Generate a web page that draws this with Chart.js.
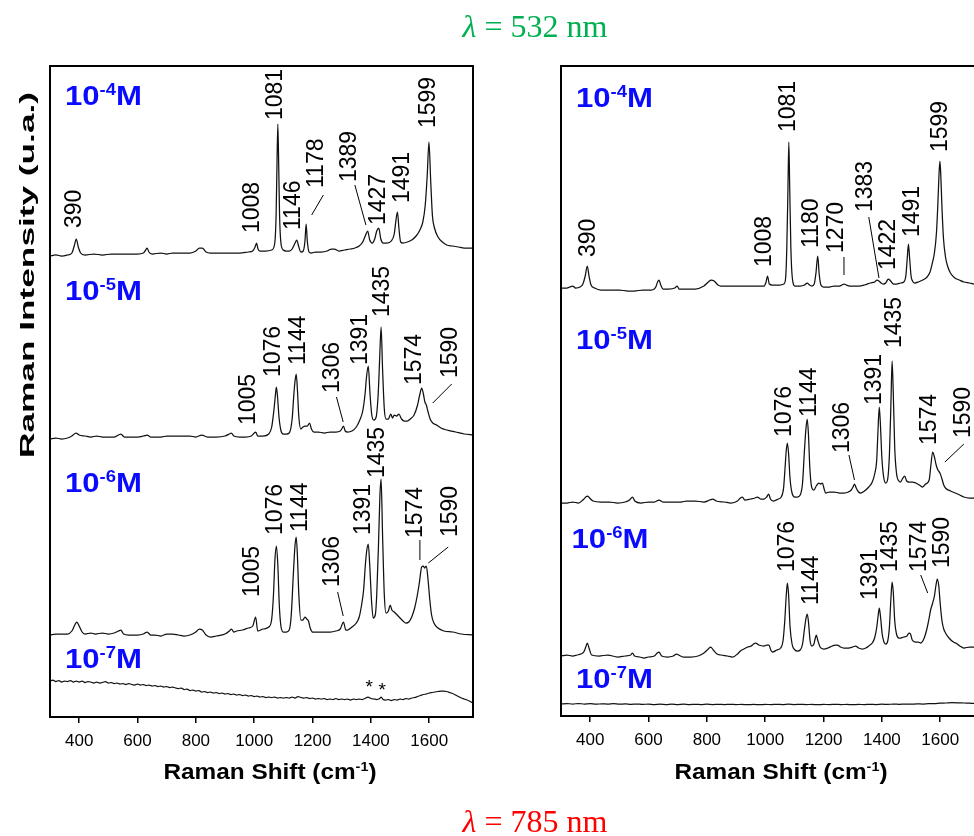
<!DOCTYPE html>
<html>
<head>
<meta charset="utf-8">
<script src="https://cdn.jsdelivr.net/npm/chart.js@4.4.1/dist/chart.umd.min.js"></script>
<style>
  html, body { margin: 0; padding: 0; background: #fff; overflow: hidden; width: 974px; height: 836px; }
  #wrap { position: relative; width: 974px; height: 836px; overflow: hidden; }
  #cA { position: absolute; left: 0; top: 0; }
  #cB { position: absolute; left: 500px; top: 0; }
</style>
</head>
<body>
<div id="wrap">
  <canvas id="cA" width="974" height="836"></canvas>
  <canvas id="cB" width="500" height="836"></canvas>
</div>
<script>
// ---------- axis ----------
const shiftMin = 300;
const shiftMax = 1750;
const shiftTicks = [400, 600, 800, 1000, 1200, 1400, 1600];
const concExponents = ['-4', '-5', '-6', '-7'];

// ---------- left panel spectra: [Raman shift (cm-1), intensity (u.a.) above the trace baseline] ----------
const specA4 = [[300,0],[320,1],[340,0],[360,1],[375,3],[383,10],[390,17],[397,9],[405,3],[420,1],[450,2],[480,1],[510,2],[540,2],[570,2],[600,2],[620,3],[628,6],[633,8],[639,4],[650,2],[680,3],[700,2],[720,3],[750,3],[780,3],[800,5],[812,8],[822,8],[835,4],[850,3],[880,3],[920,3],[950,3],[980,4],[995,5],[1003,9],[1008,13],[1013,7],[1020,5],[1040,5],[1060,6],[1070,12],[1075,40],[1078,90],[1081,132],[1084,90],[1087,40],[1092,12],[1100,6],[1110,5],[1120,5],[1130,7],[1140,13],[1146,16],[1152,10],[1160,4],[1168,5],[1174,15],[1178,32],[1182,15],[1188,4],[1195,3],[1210,4],[1230,4],[1250,5],[1265,7],[1275,7],[1290,5],[1310,6],[1330,7],[1345,8],[1360,10],[1372,14],[1382,21],[1389,25],[1396,16],[1405,13],[1413,17],[1420,25],[1427,28],[1434,17],[1442,13],[1455,13],[1470,15],[1480,22],[1486,36],[1491,44],[1496,28],[1502,14],[1510,13],[1525,14],[1540,16],[1555,20],[1568,26],[1578,34],[1586,50],[1593,80],[1599,114],[1605,75],[1611,40],[1618,28],[1630,19],[1645,14],[1660,11],[1680,10],[1700,9],[1720,8],[1750,8]];
const specA5 = [[300,0],[320,1],[340,0],[360,1],[375,3],[389,6],[400,4],[420,3],[440,2],[460,3],[480,2],[500,2],[520,2],[543,5],[555,2],[580,2],[600,2],[620,3],[633,4],[645,2],[680,2],[700,3],[720,3],[750,3],[780,3],[800,2],[820,4],[840,2],[870,2],[900,3],[915,5],[922,6],[930,3],[950,2],[970,2],[990,3],[1005,7],[1012,3],[1030,3],[1050,5],[1060,12],[1068,30],[1072,42],[1076,52],[1080,42],[1085,22],[1092,8],[1100,5],[1110,5],[1120,6],[1130,20],[1136,45],[1140,58],[1144,65],[1148,50],[1153,22],[1160,10],[1167,12],[1175,13],[1182,13],[1190,16],[1196,10],[1205,7],[1220,7],[1240,6],[1260,7],[1280,7],[1295,8],[1300,10],[1306,13],[1312,8],[1320,7],[1335,8],[1350,12],[1362,19],[1372,28],[1380,45],[1385,62],[1391,73],[1397,45],[1403,24],[1410,19],[1418,22],[1425,45],[1430,80],[1435,112],[1440,70],[1446,30],[1452,20],[1460,20],[1468,25],[1474,21],[1480,24],[1488,23],[1496,25],[1505,20],[1515,18],[1525,18],[1535,20],[1548,24],[1560,34],[1568,45],[1574,51],[1580,45],[1585,37],[1590,34],[1596,27],[1603,20],[1612,16],[1625,14],[1640,11],[1660,9],[1690,7],[1720,5],[1750,4]];
const specA6 = [[300,0],[320,1],[340,1],[360,1],[375,4],[385,10],[392,13],[400,9],[410,3],[420,1],[440,2],[455,1],[480,2],[500,1],[520,2],[535,4],[543,5],[552,1],[570,0],[600,0],[620,1],[633,3],[645,0],[660,0],[680,-1],[700,1],[720,1],[740,0],[760,-1],[780,0],[800,3],[812,6],[822,5],[835,0],[850,-2],[870,-1],[900,1],[915,4],[922,6],[930,3],[940,4],[960,5],[980,7],[995,9],[1005,18],[1012,4],[1030,6],[1050,8],[1060,16],[1066,40],[1071,75],[1076,89],[1081,70],[1086,30],[1092,8],[1100,3],[1110,3],[1120,5],[1127,20],[1134,60],[1140,90],[1144,98],[1148,80],[1153,40],[1160,15],[1167,15],[1174,18],[1180,16],[1186,14],[1192,7],[1200,3],[1220,3],[1240,3],[1260,3],[1280,4],[1295,6],[1306,13],[1314,5],[1320,5],[1335,8],[1350,12],[1360,18],[1368,30],[1375,45],[1381,70],[1386,85],[1391,91],[1396,70],[1402,35],[1408,17],[1415,20],[1420,40],[1426,90],[1431,140],[1435,156],[1440,100],[1446,40],[1452,22],[1460,24],[1466,30],[1472,25],[1480,23],[1490,20],[1500,17],[1510,14],[1520,12],[1530,13],[1540,18],[1550,27],[1558,38],[1566,52],[1574,68],[1580,69],[1584,67],[1590,69],[1596,55],[1602,35],[1608,20],[1616,12],[1630,7],[1650,4],[1680,3],[1710,1],[1750,0]];
const specA7 = [[300,22],[310,23],[320,21.5],[330,22.5],[340,21],[350,22],[360,21.5],[370,22.5],[380,21],[390,22],[400,21],[410,22],[420,20.5],[430,21.5],[440,21],[450,20],[460,21],[470,20],[480,20.5],[490,21.5],[500,20],[510,20.5],[520,19.5],[530,20],[540,19],[550,19.5],[560,18.5],[570,19.5],[580,18.5],[590,18],[600,19],[610,18],[620,18.5],[630,17.5],[640,18],[650,17],[660,17.5],[670,16.5],[680,17],[690,16],[700,16.5],[710,15.5],[720,16],[730,15],[740,14.5],[750,15],[760,13.5],[770,14],[780,12.5],[790,13],[800,12],[810,12.5],[820,11],[830,11.5],[840,10.5],[850,11],[860,10],[870,10.5],[880,9.5],[890,10],[900,9],[910,9.5],[920,8.5],[930,9],[940,8],[950,8.5],[960,7.5],[970,8],[980,7],[990,7.5],[1000,6.5],[1010,7],[1020,6],[1030,6.5],[1040,5.5],[1050,6],[1060,5.5],[1070,6],[1080,5],[1090,5.5],[1100,5],[1110,5.5],[1120,5],[1130,6],[1140,5],[1150,6.5],[1160,5.5],[1170,5],[1180,5.5],[1190,4.5],[1200,5],[1210,4],[1220,4.5],[1230,4],[1240,4.5],[1250,3.5],[1260,4],[1270,3.5],[1280,4.5],[1290,3.5],[1300,4],[1310,3.5],[1320,4],[1330,3],[1340,4],[1350,3.5],[1360,4],[1370,3.5],[1380,4.5],[1390,6],[1400,4.5],[1410,4],[1420,3.5],[1430,4.5],[1435,6],[1442,3.5],[1450,3],[1460,3.5],[1470,2.5],[1480,3.5],[1490,3],[1500,4],[1510,3.5],[1520,4.5],[1530,4],[1540,5],[1550,5.5],[1560,6.5],[1570,7.5],[1580,8.5],[1590,9],[1600,10],[1610,10.5],[1620,11],[1630,11.5],[1640,12],[1650,12],[1660,11.5],[1670,10.5],[1680,9.5],[1690,8],[1700,6.5],[1710,5],[1720,4],[1730,3],[1740,1.5],[1750,0]];
const offsetsA = [461, 278, 82, 14];

// ---------- right panel spectra ----------
const specB4 = [[300,0],[320,0],[330,1],[340,2],[350,0],[365,1],[375,4],[383,12],[390,22],[396,12],[403,3],[415,0],[437,-2],[470,-2],[500,-2],[530,-3],[551,-3],[580,-2],[610,-2],[625,1],[631,6],[636,8],[642,3],[650,-1],[670,-1],[690,0],[698,2],[705,-1],[730,-1],[760,-1],[790,2],[805,6],[815,8],[825,7],[838,3],[848,2],[880,2],[920,2],[960,2],[996,2],[1003,6],[1008,12],[1014,4],[1025,3],[1050,3],[1064,4],[1070,10],[1074,40],[1078,100],[1081,146],[1084,100],[1088,40],[1093,10],[1102,2],[1120,2],[1135,3],[1144,5],[1152,3],[1160,2],[1168,4],[1174,15],[1180,32],[1185,14],[1191,3],[1200,1],[1220,1],[1236,2],[1255,2],[1263,3],[1270,4],[1278,3],[1290,2],[1304,2],[1320,2],[1340,3],[1361,5],[1375,6],[1383,8],[1390,7],[1397,5],[1405,4],[1413,5],[1422,9],[1430,7],[1440,4],[1450,4],[1465,5],[1475,6],[1482,12],[1487,30],[1491,44],[1495,30],[1500,12],[1505,7],[1512,5],[1525,6],[1540,8],[1555,11],[1565,16],[1573,25],[1580,35],[1587,55],[1592,85],[1596,115],[1599,127],[1602,112],[1606,80],[1611,50],[1618,31],[1625,22],[1635,15],[1650,10],[1665,8],[1681,6],[1700,5],[1717,4],[1735,4],[1750,4]];
const specB5 = [[300,0],[320,0],[340,1],[360,0],[375,3],[385,6],[391,7],[398,5],[410,2],[437,1],[465,1],[494,0],[520,1],[535,3],[545,6],[553,2],[574,0],[600,1],[620,1],[636,3],[650,1],[680,1],[711,1],[730,2],[760,2],[790,1],[810,3],[820,4],[832,2],[860,1],[882,0],[905,2],[915,5],[922,6],[930,3],[950,4],[965,5],[973,6],[985,4],[996,4],[1005,6],[1012,9],[1018,4],[1028,2],[1045,4],[1055,6],[1063,15],[1068,35],[1072,52],[1076,60],[1080,50],[1085,25],[1092,10],[1102,6],[1110,6],[1120,8],[1128,20],[1134,50],[1139,72],[1144,84],[1148,70],[1153,35],[1160,15],[1167,13],[1175,17],[1184,20],[1190,19],[1196,20],[1202,14],[1207,10],[1220,11],[1236,11],[1255,10],[1270,10],[1285,11],[1295,13],[1301,16],[1306,19],[1312,15],[1320,11],[1327,10],[1340,12],[1355,16],[1367,21],[1376,30],[1382,42],[1386,68],[1391,96],[1395,78],[1400,45],[1406,26],[1413,20],[1420,24],[1426,50],[1431,100],[1435,142],[1439,110],[1444,55],[1450,30],[1458,22],[1464,21],[1470,24],[1478,27],[1485,22],[1493,21],[1505,21],[1516,20],[1528,18],[1539,16],[1550,19],[1562,23],[1568,38],[1574,51],[1580,46],[1586,38],[1592,33],[1599,30],[1606,24],[1612,18],[1618,15],[1635,12],[1660,9],[1681,6],[1700,5],[1717,5],[1735,4],[1750,4]];
const specB6 = [[300,0],[320,1],[340,0],[355,1],[368,2],[378,4],[385,9],[390,13],[396,8],[405,1],[430,0],[460,1],[494,-1],[520,0],[539,1],[545,3],[552,0],[570,-1],[585,-2],[600,-1],[620,0],[630,3],[636,4],[645,0],[665,-1],[685,0],[696,2],[703,1],[720,-1],[745,-1],[770,0],[790,3],[805,7],[813,9],[822,6],[835,2],[848,1],[870,0],[888,-1],[905,2],[915,5],[927,7],[940,9],[952,10],[960,12],[967,13],[978,11],[996,10],[1005,11],[1013,11],[1019,6],[1025,4],[1040,6],[1053,8],[1061,15],[1067,35],[1072,60],[1076,73],[1080,62],[1085,30],[1092,12],[1102,6],[1110,5],[1120,6],[1128,12],[1135,28],[1140,38],[1144,42],[1148,35],[1154,15],[1160,10],[1167,12],[1171,17],[1175,21],[1180,16],[1188,9],[1201,7],[1215,8],[1230,10],[1240,11],[1247,11],[1258,9],[1270,8],[1285,8],[1300,9],[1310,10],[1320,8],[1333,7],[1345,8],[1355,10],[1367,13],[1375,18],[1382,28],[1387,40],[1391,48],[1395,40],[1401,22],[1407,14],[1413,12],[1420,15],[1426,30],[1431,58],[1435,74],[1439,64],[1444,35],[1450,22],[1458,18],[1464,18],[1475,19],[1486,20],[1493,23],[1498,22],[1504,16],[1515,14],[1525,14],[1533,13],[1545,18],[1555,28],[1562,38],[1567,46],[1574,53],[1580,60],[1585,70],[1590,77],[1595,70],[1600,52],[1606,35],[1612,27],[1618,23],[1630,18],[1645,14],[1653,13],[1667,10],[1681,8],[1700,9],[1717,9],[1735,8],[1750,8]];
const specB7 = [[300,1],[320,1.5],[340,1],[360,1.5],[380,1],[400,1.3],[420,0.8],[440,1.2],[460,0.9],[480,1.3],[500,0.8],[520,1.1],[540,0.7],[560,1],[580,0.6],[600,0.9],[620,0.5],[640,0.8],[660,0.5],[680,0.9],[700,0.5],[720,0.8],[740,0.4],[760,0.7],[780,0.4],[800,0.8],[820,0.5],[840,0.7],[860,0.4],[880,0.7],[900,0.4],[920,0.6],[940,0.3],[960,0.6],[980,0.3],[1000,0.6],[1020,0.4],[1040,0.7],[1060,0.4],[1080,0.8],[1100,0.5],[1120,0.7],[1140,0.4],[1160,0.6],[1180,0.3],[1200,0.6],[1220,0.4],[1240,0.7],[1260,0.4],[1280,0.6],[1300,0.3],[1320,0.6],[1340,0.4],[1360,0.7],[1380,0.5],[1400,0.8],[1420,0.6],[1440,0.9],[1460,0.7],[1480,1],[1500,0.8],[1520,1.1],[1540,1],[1560,1.3],[1580,1.4],[1600,1.8],[1620,2],[1640,2.3],[1660,2.2],[1680,2],[1700,1.8],[1720,1.6],[1750,1.5]];
const offsetsB = [428, 213, 60, 11];

// ---------- band assignments per trace: [band (cm-1), label x, label foot y, optional leader x1,y1,x2,y2] ----------
const bandsA = [
  [[390,385,489],[1008,993,484],[1081,1074,597],[1146,1136,487],[1178,1214,529,[1237,522,1197,502]],[1389,1328,535,[1345,532,1383,492]],[1427,1428,492],[1491,1508,514],[1599,1599,589]],
  [[1005,982,292],[1076,1068,340],[1144,1153,352],[1306,1268,324,[1282,320,1305,295]],[1391,1366,352],[1435,1440,400],[1574,1551,332],[1590,1674,339,[1677,333,1612,314]]],
  [[1005,994,120],[1076,1075,182],[1144,1160,185],[1306,1268,130,[1286,125,1305,101]],[1391,1376,182],[1435,1424,239],[1574,1554,179,[1568,177,1568,157]],[1590,1674,180,[1665,170,1597,154]]],
  []
];
const bandsB = [
  [[390,394,459],[1008,998,449],[1081,1080,584],[1180,1159,468],[1270,1245,463,[1270,459,1270,441]],[1383,1344,504,[1355,499,1390,438]],[1422,1423,446],[1491,1505,479],[1599,1601,564]],
  [[1076,1067,279],[1144,1152,299],[1306,1267,263,[1287,261,1306,236]],[1391,1375,311],[1435,1443,368],[1574,1563,271],[1590,1680,278,[1681,272,1616,254]]],
  [[1076,1076,144],[1144,1159,111],[1391,1361,116],[1435,1430,144],[1574,1529,144,[1533,141,1557,123]],[1590,1607,148]],
  []
];
// concentration tag anchors (x in cm-1, y in u.a.)
const concPosA = [[351,612],[351,417],[351,225],[351,49]];
const concPosB = [[351,609],[351,367],[336,168],[351,28]];
// weak features marked in the lowest trace
const starsA = [[1394,35],[1439,32]];

const SANS = '"Liberation Sans", Arial, Helvetica, sans-serif';
const SERIF = '"Liberation Serif", "Times New Roman", serif';

function drawParts(ctx, parts, x, y, o) {
  ctx.save();
  let w = 0;
  for (const p of parts) { ctx.font = p.f; p.w = ctx.measureText(p.t).width; w += p.w; }
  const sx = o.len ? o.len / w : 1;
  ctx.translate(x, y);
  if (o.rot) ctx.rotate(o.rot);
  ctx.scale(sx, 1);
  let cx = o.align === 'center' ? -w / 2 : 0;
  ctx.fillStyle = o.color || '#000';
  ctx.textAlign = 'left';
  ctx.textBaseline = 'alphabetic';
  for (const p of parts) { ctx.font = p.f; ctx.fillText(p.t, cx, -(p.rise || 0)); cx += p.w; }
  ctx.restore();
}

function panelText(cfg) {
  return {
    id: 'panelText',
    afterDraw(chart) {
      const ctx = chart.ctx, xs = chart.scales.x, ys = chart.scales.y, a = chart.chartArea;
      const X = v => xs.getPixelForValue(v), Y = v => ys.getPixelForValue(v);
      ctx.save();
      ctx.strokeStyle = '#000';
      ctx.lineWidth = 2;
      ctx.strokeRect(a.left, a.top, a.right - a.left, a.bottom - a.top);
      ctx.restore();

      // band labels with leaders
      cfg.bands.forEach(set => set.forEach(b => {
        ctx.save();
        ctx.translate(X(b[1]), Y(b[2]));
        ctx.rotate(-Math.PI / 2);
        ctx.font = '23px ' + SANS;
        ctx.fillStyle = '#000';
        ctx.textAlign = 'left';
        ctx.textBaseline = 'middle';
        ctx.fillText(String(b[0]), 0, 0);
        ctx.restore();
        if (b[3]) {
          const l = b[3];
          ctx.save();
          ctx.strokeStyle = '#000';
          ctx.lineWidth = 1;
          ctx.beginPath();
          ctx.moveTo(X(l[0]), Y(l[1]));
          ctx.lineTo(X(l[2]), Y(l[3]));
          ctx.stroke();
          ctx.restore();
        }
      }));

      // concentration tags
      cfg.conc.forEach((p, i) => {
        drawParts(ctx, [
          { t: '10', f: 'bold 27px ' + SANS },
          { t: concExponents[i], f: 'bold 16px ' + SANS, rise: 10 },
          { t: 'M', f: 'bold 27px ' + SANS }
        ], X(p[0]), Y(p[1]), { color: '#0a0aff', len: 77 });
      });

      (cfg.stars || []).forEach(s => {
        ctx.save();
        ctx.font = '19px ' + SANS;
        ctx.fillStyle = '#000';
        ctx.textAlign = 'center';
        ctx.textBaseline = 'alphabetic';
        ctx.fillText('*', X(s[0]), Y(s[1]) + 11);
        ctx.restore();
      });

      // x axis title
      drawParts(ctx, [
        { t: 'Raman Shift (cm', f: 'bold 22px ' + SANS },
        { t: '-1', f: 'bold 13px ' + SANS, rise: 8 },
        { t: ')', f: 'bold 22px ' + SANS }
      ], cfg.xTitleX, 779, { align: 'center', len: 213 });

      if (cfg.extra) cfg.extra(ctx);
    }
  };
}

function buildPanel(id, cfg) {
  const canvas = document.getElementById(id);
  const W = canvas.width, H = canvas.height;
  const datasets = cfg.spectra.map((pts, i) => ({
    data: pts.map(p => ({ x: p[0], y: p[1] + cfg.offsets[i] })),
    borderColor: '#111',
    borderWidth: 1.25,
    pointRadius: 0,
    fill: false,
    cubicInterpolationMode: 'monotone'
  }));
  return new Chart(canvas, {
    type: 'line',
    data: { datasets },
    options: {
      responsive: false,
      animation: false,
      devicePixelRatio: 1,
      events: [],
      layout: { padding: { left: cfg.box.left, right: W - cfg.box.right, top: cfg.box.top, bottom: 0 } },
      plugins: { legend: { display: false }, tooltip: { enabled: false } },
      scales: {
        x: {
          type: 'linear',
          min: shiftMin,
          max: shiftMax,
          afterBuildTicks: s => { s.ticks = shiftTicks.map(v => ({ value: v })); },
          afterFit: s => { s.height = H - cfg.box.bottom; },
          grid: { display: true, drawOnChartArea: false, drawTicks: true, tickLength: 6, color: '#000', lineWidth: 1.5 },
          border: { display: false },
          ticks: { font: { family: SANS, size: 17 }, color: '#000', padding: 8, maxRotation: 0, autoSkip: false, callback: v => String(v) }
        },
        y: { display: false, min: 0, max: cfg.box.bottom - cfg.box.top }
      }
    },
    plugins: [panelText(cfg)]
  });
}

buildPanel('cA', {
  spectra: [specA4, specA5, specA6, specA7],
  offsets: offsetsA,
  bands: bandsA,
  conc: concPosA,
  stars: starsA,
  box: { left: 50, right: 473, top: 66, bottom: 717 },
  xTitleX: 270,
  extra(ctx) {
    drawParts(ctx, [{ t: 'Raman Intensity (u.a.)', f: 'bold 21px ' + SANS }], 34, 275,
      { align: 'center', rot: -Math.PI / 2, len: 366 });
    drawParts(ctx, [
      { t: 'λ', f: 'italic 32px ' + SERIF },
      { t: ' = 532 nm', f: '32px ' + SERIF }
    ], 535, 37, { align: 'center', color: '#00b050' });
    drawParts(ctx, [
      { t: 'λ', f: 'italic 32px ' + SERIF },
      { t: ' = 785 nm', f: '32px ' + SERIF }
    ], 535, 832, { align: 'center', color: '#ff0000' });
  }
});

buildPanel('cB', {
  spectra: [specB4, specB5, specB6, specB7],
  offsets: offsetsB,
  bands: bandsB,
  conc: concPosB,
  box: { left: 61, right: 484, top: 66, bottom: 716 },
  xTitleX: 281
});
</script>
</body>
</html>
